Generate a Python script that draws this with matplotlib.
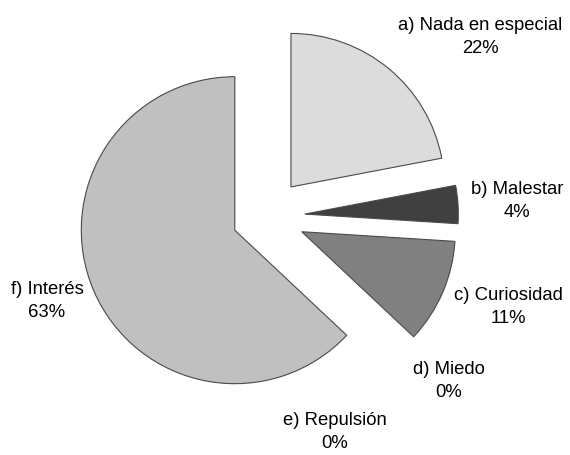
import matplotlib
matplotlib.use("Agg")
import matplotlib.pyplot as plt

categories = ["a) Nada en especial", "b) Malestar", "c) Curiosidad",
              "d) Miedo", "e) Repulsión", "f) Interés"]
values = [22, 4, 11, 0, 0, 63]
pct_labels = ["22%", "4%", "11%", "0%", "0%", "63%"]

colors = ["#dcdcdc", "#404040", "#808080", "#a0a0a0", "#b0b0b0", "#c0c0c0"]
explode = [0.25, 0.25, 0.25, 0.25, 0.25, 0.225]
label_pos = [(1.391, 1.176), (1.632, 0.107), (1.573, -0.583),
             (1.189, -1.065), (0.446, -1.397), (-1.430, -0.544)]

plt.rcParams['font.family'] = ['Liberation Sans', 'DejaVu Sans']

fig = plt.figure(figsize=(5.7, 4.56), dpi=100)
ax = fig.add_axes([0, 0, 1, 1])
wedges, _ = ax.pie(values, startangle=90, counterclock=False,
                   explode=explode, colors=colors,
                   wedgeprops=dict(edgecolor="#4a4a4a", linewidth=0.8))
for w, v in zip(wedges, values):
    if v == 0:
        w.set_visible(False)

for cat, pct, (x, y) in zip(categories, pct_labels, label_pos):
    ax.text(x, y, f"{cat}\n{pct}", ha="center", va="center",
            fontsize=13.3, color="#000000", linespacing=1.4)

ax.set_xlim(-1.736, 1.977)
ax.set_ylim(-1.554, 1.417)
ax.set_aspect("equal", adjustable="datalim")
ax.axis("off")
fig.savefig("out.png", dpi=100)
